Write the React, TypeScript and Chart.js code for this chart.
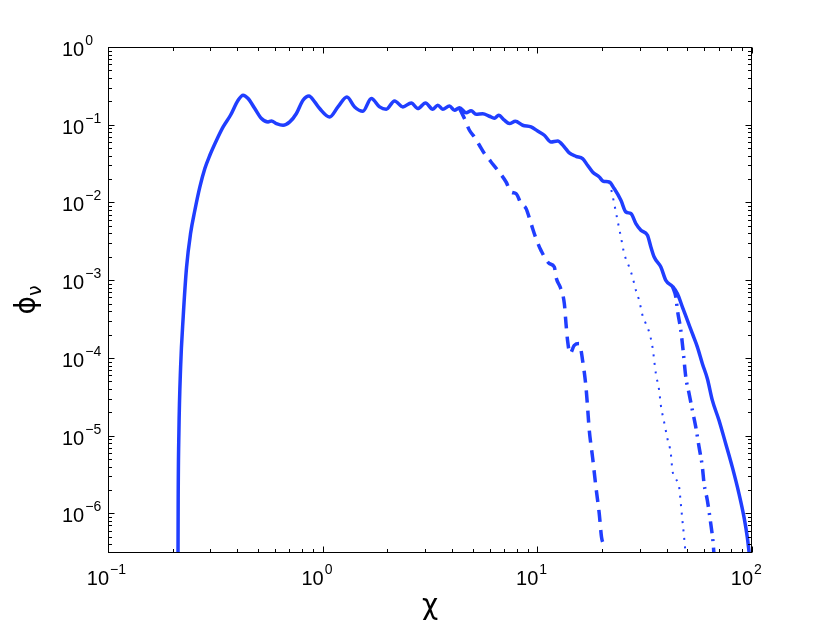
import React, { useEffect, useRef } from 'react';
import { Chart, registerables } from 'chart.js';

Chart.register(...registerables);

// ---- axis ranges and tick decades ----
const X_MIN = 0.1;
const X_MAX = 100;
const Y_MIN = 3.1e-7;
const Y_MAX = 1;
const xTickExps = [-1, 0, 1, 2];
const yTickExps = [0, -1, -2, -3, -4, -5, -6];
const xTitle = 'χ';
const yTitleMain = 'ϕ';
const yTitleSub = 'ν';

// ---- solid curve ----
const solidX = [
  0.2115, 0.2123, 0.2139, 0.2179, 0.224, 0.2323, 0.2424, 0.2539, 0.2679, 0.2826,
  0.2981, 0.3203, 0.3438, 0.372, 0.4037, 0.4258, 0.4494, 0.4828, 0.5187, 0.5567,
  0.5772, 0.609, 0.6537, 0.7025, 0.7546, 0.8096, 0.8635, 0.9179, 0.9684, 1.078,
  1.178, 1.297, 1.409, 1.539, 1.685, 1.841, 1.978, 2.162, 2.363, 2.586,
  2.776, 3.013, 3.258, 3.438, 3.627, 3.896, 4.111, 4.337, 4.66, 4.915,
  5.187, 5.568, 5.979, 6.31, 6.607, 7.024, 7.409, 7.901, 8.545, 9.348,
  10.03, 10.78, 11.58, 12.43, 13.36, 14.09, 15.14, 16.25, 17.14, 18.08,
  19.43, 20.28, 21.63, 22.81, 24.51, 25.86, 27.28, 28.78, 30.37, 32.59,
  33.8, 35.02, 37.62, 39.68, 42.59, 44.95, 47.41, 50.02, 52.77, 55.68,
  58.73, 61.96, 65.37, 70.23, 75.44, 80.98, 87.0, 91.79, 95.09, 97.9,
];
const solidY = [
  5e-8, 1.47e-6, 1.07e-5, 7.64e-5, 3.36e-4, 1.48e-3, 3.98e-3, 7.94e-3, 0.01585, 0.0273,
  0.0405, 0.0632, 0.0937, 0.1325, 0.2067, 0.2397, 0.2174, 0.1616, 0.1202, 0.1087,
  0.1119, 0.1036, 0.0985, 0.1087, 0.1394, 0.2067, 0.2348, 0.1965, 0.1616, 0.126,
  0.1695, 0.2279, 0.1695, 0.1492, 0.2174, 0.1695, 0.1583, 0.2024, 0.1695, 0.1908,
  0.1616, 0.1908, 0.1583, 0.1782, 0.1583, 0.1746, 0.1537, 0.1655, 0.1427, 0.1514,
  0.1365, 0.1385, 0.1286, 0.1213, 0.1325, 0.1143, 0.1036, 0.1109, 0.0985, 0.0937,
  0.0832, 0.0733, 0.0601, 0.0619, 0.0518, 0.0434, 0.0393, 0.0367, 0.0301, 0.0247,
  0.0213, 0.01874, 0.01835, 0.0151, 0.01067, 7.54e-3, 7.2e-3, 5.35e-3, 4.39e-3, 3.78e-3,
  2.68e-3, 1.99e-3, 1.48e-3, 9.97e-4, 8.35e-4, 6.72e-4, 4.52e-4, 3.05e-4, 2.05e-4, 1.38e-4,
  8.44e-5, 5.41e-5, 2.85e-5, 1.57e-5, 7.89e-6, 3.94e-6, 1.79e-6, 8.96e-7, 4.95e-7, 2.48e-7,
];

// ---- dashed curve ----
const dashedX = [
  4.337, 4.576, 4.828, 5.093, 5.373, 5.668, 6.09, 6.537, 7.153, 7.546,
  7.96, 8.4, 8.86, 9.348, 9.863, 10.4, 11.37, 12.0, 12.26, 12.79,
  13.36, 13.6, 13.83, 14.2, 14.86, 15.68, 16.25, 16.85, 17.14, 17.46,
  18.08, 18.75, 19.43, 19.91, 20.49,
];
const dashedY = [
  0.163, 0.1202, 0.0849, 0.0697, 0.0545, 0.0426, 0.0332, 0.026, 0.01835, 0.01365,
  0.01302, 9.68e-3, 8.35e-3, 5.35e-3, 3.43e-3, 2.42e-3, 1.64e-3, 1.48e-3, 1.06e-3, 8.1e-4,
  5.0e-4, 2.76e-4, 1.68e-4, 1.14e-4, 1.45e-4, 1.53e-4, 9.31e-5, 4.22e-5, 2.33e-5, 1.17e-5,
  5.31e-6, 2.18e-6, 9.91e-7, 4.95e-7, 3.87e-7,
];

// ---- dotted curve ----
const dottedX = [
  21.63, 22.02, 22.81, 23.63, 24.51, 25.39, 26.79, 27.76, 28.78, 29.81,
  30.9, 32.03, 33.19, 34.39, 35.66, 36.94, 37.62, 38.96, 40.37, 41.87,
  42.59, 44.17, 45.77, 46.61, 47.41, 48.28, 48.8,
];
const dottedY = [
  0.01835, 0.01524, 9.68e-3, 5.9e-3, 3.6e-3, 2.2e-3, 1.48e-3, 1.1e-3, 7.41e-4, 5.51e-4,
  3.53e-4, 2.76e-4, 2.15e-4, 1.38e-4, 6.28e-5, 3.83e-5, 2.45e-5, 1.5e-5, 9.15e-6, 5.87e-6,
  3.58e-6, 2.8e-6, 2.18e-6, 1.33e-6, 8.13e-7, 4.95e-7, 3.54e-7,
];

// ---- dash-dot curve ----
const dashDotX = [
  42.59, 44.17, 44.95, 46.61, 47.76, 49.16, 50.93, 52.77, 54.72, 56.69,
  58.73, 59.8, 61.96, 64.26, 65.86, 66.57,
];
const dashDotY = [
  8.35e-4, 6.08e-4, 4.1e-4, 2.26e-4, 1.25e-4, 5.68e-5, 3.47e-5, 2.12e-5, 1.29e-5, 7.13e-6,
  3.94e-6, 2.41e-6, 1.47e-6, 7.37e-7, 4.27e-7, 2.88e-7,
];

const BLUE = 'rgb(32, 62, 255)';
const FONT = '"Liberation Sans", Arial, Helvetica, sans-serif';
const GREEK = '"DejaVu Sans", sans-serif';

const toPoints = (xs: number[], ys: number[]) => xs.map((x, i) => ({ x, y: ys[i] }));

const axesPlugin = {
  id: 'matlabAxes',
  beforeDraw(chart: any) {
    const ctx = chart.ctx;
    ctx.save();
    ctx.fillStyle = '#ffffff';
    ctx.fillRect(0, 0, chart.width, chart.height);
    ctx.restore();
  },
  afterDatasetsDraw(chart: any) {
    const { ctx, chartArea: a, scales } = chart;
    const xs = scales.x;
    const ys = scales.y;
    const L = Math.round(a.left) + 0.5;
    const R = Math.round(a.right) - 0.5;
    const T = Math.round(a.top) + 0.5;
    const B = Math.round(a.bottom) - 0.5;
    ctx.save();
    ctx.strokeStyle = '#000';
    ctx.lineWidth = 1;
    ctx.strokeRect(L, T, R - L, B - T);
    ctx.beginPath();
    for (let d = -1; d <= 2; d++) {
      for (let m = 1; m <= 9; m++) {
        const v = m * Math.pow(10, d);
        if (v < X_MIN * 0.999 || v > X_MAX * 1.001) continue;
        const px = Math.round(xs.getPixelForValue(v)) + 0.5;
        const len = m === 1 ? 6 : 3.5;
        ctx.moveTo(px, B);
        ctx.lineTo(px, B - len);
        ctx.moveTo(px, T);
        ctx.lineTo(px, T + len);
      }
    }
    for (let d = -7; d <= 0; d++) {
      for (let m = 1; m <= 9; m++) {
        const v = m * Math.pow(10, d);
        if (v < Y_MIN * 0.999 || v > Y_MAX * 1.001) continue;
        const py = Math.round(ys.getPixelForValue(v)) + 0.5;
        const len = m === 1 ? 6 : 3.5;
        ctx.moveTo(L, py);
        ctx.lineTo(L + len, py);
        ctx.moveTo(R, py);
        ctx.lineTo(R - len, py);
      }
    }
    ctx.stroke();

    // tick labels
    ctx.fillStyle = '#000';
    ctx.textBaseline = 'alphabetic';
    ctx.textAlign = 'left';
    const supText = (e: number) => (e < 0 ? '\u2212' + Math.abs(e) : String(e));
    ctx.font = '20px ' + FONT;
    const baseW = ctx.measureText('10').width;
    xTickExps.forEach((e) => {
      const px = xs.getPixelForValue(Math.pow(10, e));
      const bx = px + 1 - baseW;
      ctx.font = '20px ' + FONT;
      ctx.fillText('10', bx, 585);
      ctx.font = '14px ' + FONT;
      ctx.fillText(supText(e), bx + baseW + 1, 574);
    });
    yTickExps.forEach((e) => {
      const py = ys.getPixelForValue(Math.pow(10, e));
      ctx.font = '20px ' + FONT;
      ctx.fillText('10', 62, py + 9);
      ctx.font = '14px ' + FONT;
      ctx.fillText(supText(e), 62 + baseW + 1, py - 2);
    });

    // axis titles
    ctx.textAlign = 'center';
    ctx.textBaseline = 'middle';
    ctx.font = '28px ' + GREEK;
    ctx.fillText(xTitle, (a.left + a.right) / 2, 607);

    ctx.save();
    ctx.translate(26, (a.top + a.bottom) / 2);
    ctx.rotate(-Math.PI / 2);
    ctx.font = '28px ' + GREEK;
    const pw = ctx.measureText(yTitleMain).width;
    ctx.font = '19px ' + GREEK;
    const nw = ctx.measureText(yTitleSub).width;
    const start = -(pw + nw) / 2;
    ctx.textAlign = 'left';
    ctx.textBaseline = 'alphabetic';
    ctx.font = '28px ' + GREEK;
    ctx.fillText(yTitleMain, start, 9);
    ctx.font = '19px ' + GREEK;
    ctx.fillText(yTitleSub, start + pw, 15);
    ctx.restore();

    ctx.restore();
  },
};

export default function App() {
  const canvasRef = useRef<HTMLCanvasElement | null>(null);

  useEffect(() => {
    const canvas = canvasRef.current;
    if (!canvas) return;
    const common = {
      borderColor: BLUE,
      pointRadius: 0,
      pointHoverRadius: 0,
      fill: false,
      cubicInterpolationMode: 'monotone' as const,
      clip: 0,
      borderJoinStyle: 'round' as const,
    };
    const chart = new Chart(canvas, {
      type: 'line',
      data: {
        datasets: [
          { ...common, label: 'solid', data: toPoints(solidX, solidY), borderWidth: 3.5 },
          { ...common, label: 'dashed', data: toPoints(dashedX, dashedY), borderWidth: 3.5, borderDash: [12, 8] },
          { ...common, label: 'dotted', data: toPoints(dottedX, dottedY), borderWidth: 2, borderDash: [2, 6.5] },
          { ...common, label: 'dash-dot', data: toPoints(dashDotX, dashDotY), borderWidth: 3.5, borderDash: [12, 6, 2, 6.5] },
        ],
      },
      options: {
        animation: false,
        responsive: false,
        maintainAspectRatio: false,
        devicePixelRatio: 1,
        layout: { padding: { left: 108, right: 78, top: 47, bottom: 72 } },
        plugins: { legend: { display: false }, tooltip: { enabled: false } },
        events: [],
        scales: {
          x: { type: 'logarithmic', min: X_MIN, max: X_MAX, display: false },
          y: { type: 'logarithmic', min: Y_MIN, max: Y_MAX, display: false },
        },
      },
      plugins: [axesPlugin],
    });
    return () => chart.destroy();
  }, []);

  return (
    <div style={{ position: 'absolute', left: 0, top: 0, width: 830, height: 625 }}>
      <canvas ref={canvasRef} width={830} height={625} style={{ display: 'block' }} />
    </div>
  );
}
